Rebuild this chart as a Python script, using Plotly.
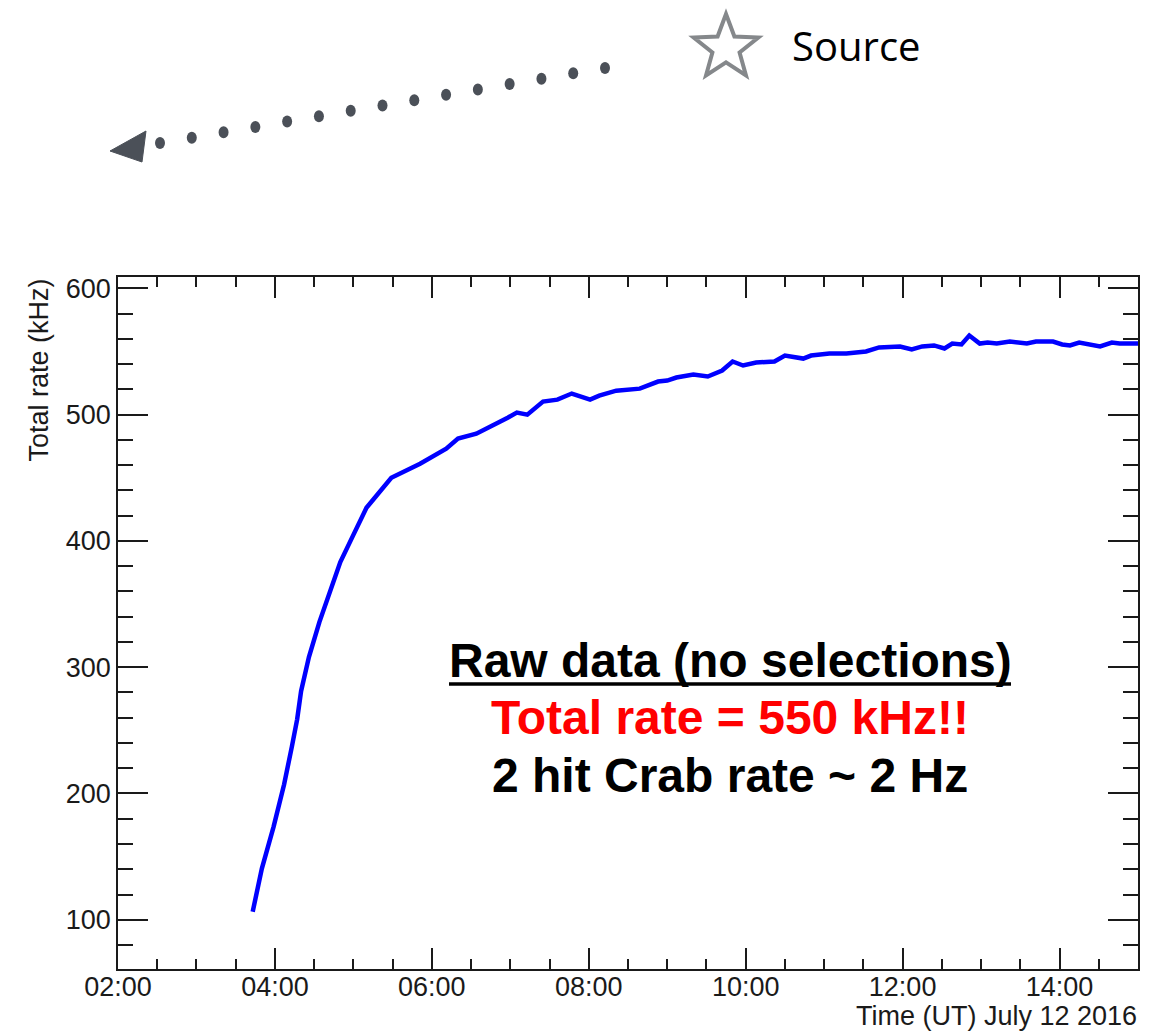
import numpy as np
import plotly.graph_objects as go

# Total trigger rate over the night of 12 July 2016 (UT)
day = "2016-07-12"
time_utc = [
    "03:43", "03:50", "03:59", "04:07", "04:13", "04:17", "04:20", "04:26",
    "04:34", "04:42", "04:50", "05:00", "05:10", "05:29", "05:51", "06:11",
    "06:20", "06:34", "06:44", "06:52", "06:58", "07:05", "07:13", "07:25",
    "07:36", "07:47", "08:01", "08:08", "08:21", "08:39", "08:53", "09:00",
    "09:07", "09:20", "09:31", "09:42", "09:50", "09:58", "10:08", "10:22",
    "10:30", "10:36", "10:44", "10:50", "11:04", "11:17", "11:32", "11:42",
    "11:58", "12:07", "12:15", "12:24", "12:32", "12:38", "12:45", "12:51",
    "12:59", "13:05", "13:12", "13:22", "13:35", "13:42", "13:55", "14:02",
    "14:08", "14:15", "14:23", "14:31", "14:40", "14:46", "15:00",
]
rate_khz = [
    106.3, 140.5, 173.8, 207.1, 237.3, 258.7, 281.0, 308.0,
    335.7, 360.3, 383.3, 404.8, 426.2, 450.0, 461.1, 473.0,
    481.0, 484.9, 489.7, 494.4, 497.6, 501.6, 500.0, 510.3,
    511.9, 516.7, 511.9, 515.1, 519.0, 520.6, 526.2, 527.0,
    529.4, 531.7, 530.2, 534.9, 542.1, 538.9, 541.3, 542.1,
    546.8, 546.0, 544.4, 546.8, 548.4, 548.4, 550.0, 553.2,
    554.0, 551.6, 554.0, 554.8, 552.4, 556.3, 555.6, 562.7,
    556.3, 557.1, 556.3, 557.9, 556.3, 557.9, 557.9, 555.6,
    554.8, 557.1, 555.6, 554.0, 557.1, 556.3, 556.3,
]
x_range = ["02:00", "15:00"]
y_range = [61, 609]

x_title = "Time (UT) July 12 2016"
y_title = "Total rate (kHz)"
note_lines = [
    "Raw data (no selections)",
    "Total rate = 550 kHz!!",
    "2 hit Crab rate ~ 2 Hz",
]
source_label = "Source"

W, H = 1165, 1031
ML, MR, MT, MB = 118, 27, 277, 62
PW, PH = W - ML - MR, H - MT - MB

FONT = "Liberation Sans, Arial, sans-serif"
AXC = "#1a1a1a"


def px(x, y):
    """Figure pixel position -> paper coordinates."""
    return (x - ML) / PW, (H - MB - y) / PH


fig = go.Figure()
fig.add_trace(go.Scatter(
    x=[f"{day} {t}" for t in time_utc],
    y=rate_khz,
    mode="lines",
    line=dict(color="#0000ff", width=4.5),
    showlegend=False,
))

axis_common = dict(
    ticks="inside",
    tickwidth=1.5,
    tickcolor=AXC,
    showline=True,
    linecolor=AXC,
    linewidth=1.5,
    mirror="ticks",
    showgrid=False,
    zeroline=False,
    tickfont=dict(family=FONT, size=27, color=AXC),
)

fig.update_xaxes(
    type="date",
    range=[f"{day} {x_range[0]}", f"{day} {x_range[1]}"],
    tickformat="%H:%M",
    tick0=f"{day} 02:00",
    dtick=2 * 3600 * 1000,
    ticklen=21,
    ticklabelstandoff=-7,
    minor=dict(dtick=30 * 60 * 1000, ticks="inside", ticklen=10,
               tickwidth=1.5, tickcolor=AXC, showgrid=False),
    **axis_common,
)
fig.update_yaxes(
    range=y_range,
    tick0=0,
    dtick=100,
    ticklen=30,
    minor=dict(dtick=20, ticks="inside", ticklen=15,
               tickwidth=1.5, tickcolor=AXC, showgrid=False),
    **axis_common,
)

annotations = []
# axis titles
ax_, ay_ = px(1138, 1032)
annotations.append(dict(text=x_title, x=1, y=ay_, xref="paper", yref="paper",
                        xanchor="right", yanchor="bottom", showarrow=False,
                        borderpad=0,
                        font=dict(family=FONT, size=27, color=AXC)))
ax_, ay_ = px(38, 277)
annotations.append(dict(text=y_title, x=ax_, y=ay_, xref="paper", yref="paper",
                        xanchor="center", yanchor="top", textangle=-90,
                        showarrow=False,
                        font=dict(family=FONT, size=27, color=AXC)))
# note inside the frame
note_colors = ["#000000", "#ff0000", "#000000"]
note_y = [660, 717, 775]
for txt, col, yy in zip(note_lines, note_colors, note_y):
    nx, ny = px(730, yy)
    annotations.append(dict(text=f"<b>{txt}</b>", x=nx, y=ny,
                            xref="paper", yref="paper",
                            xanchor="center", yanchor="middle",
                            showarrow=False,
                            font=dict(family=FONT, size=48, color=col)))
# source label
sx, sy = px(790, 45)
annotations.append(dict(text=source_label, x=sx, y=sy, xref="paper",
                        yref="paper", xanchor="left", yanchor="middle",
                        showarrow=False,
                        font=dict(family="Open Sans, sans-serif", size=40,
                                  color="#000000")))

shapes = []
# underline below the first note line
u0x, u0y = px(449, 684)
u1x, _ = px(1011, 684)
shapes.append(dict(type="line", xref="paper", yref="paper",
                   x0=u0x, x1=u1x, y0=u0y, y1=u0y,
                   line=dict(color="#000000", width=3.5)))
# dotted trail pointing away from the source
dot_col = "#4b5058"
p_start, p_end, n_dots = (605, 68), (160, 143), 15
rx_dot, ry_dot = 5, 6
for i in range(n_dots):
    t = i / (n_dots - 1)
    cx = p_start[0] + t * (p_end[0] - p_start[0])
    cy = p_start[1] + t * (p_end[1] - p_start[1])
    x0, y0 = px(cx - rx_dot, cy + ry_dot)
    x1, y1 = px(cx + rx_dot, cy - ry_dot)
    shapes.append(dict(type="circle", xref="paper", yref="paper",
                       x0=x0, y0=y0, x1=x1, y1=y1,
                       fillcolor=dot_col, line=dict(width=0)))
# arrow head
tri = [(110, 151), (146, 131), (142, 162)]
tri_p = [px(*p) for p in tri]
path = "M " + " L ".join(f"{a:.5f},{b:.5f}" for a, b in tri_p) + " Z"
shapes.append(dict(type="path", xref="paper", yref="paper", path=path,
                   fillcolor=dot_col, line=dict(color=dot_col, width=1)))
# open star marking the source
cx, cy, R = 726, 48, 34
r_in = R * 0.42
pts = []
for k in range(10):
    ang = np.pi / 2 + k * np.pi / 5
    rr = R if k % 2 == 0 else r_in
    pts.append(px(cx + rr * np.cos(ang), cy - rr * np.sin(ang)))
path = "M " + " L ".join(f"{a:.5f},{b:.5f}" for a, b in pts) + " Z"
shapes.append(dict(type="path", xref="paper", yref="paper", path=path,
                   fillcolor="#ffffff", line=dict(color="#85888b", width=4)))

fig.update_layout(
    width=W, height=H,
    margin=dict(l=ML, r=MR, t=MT, b=MB),
    paper_bgcolor="#ffffff",
    plot_bgcolor="#ffffff",
    annotations=annotations,
    shapes=shapes,
    showlegend=False,
)

fig.write_html("out.html")
